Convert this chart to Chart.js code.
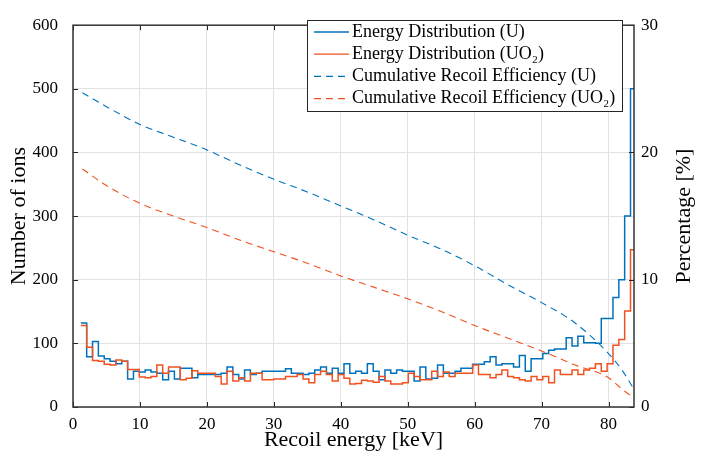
<!DOCTYPE html>
<html><head><meta charset="utf-8">
<script src="https://cdn.jsdelivr.net/npm/chart.js@4/dist/chart.umd.min.js"></script>
<style>html,body{margin:0;padding:0;background:#fff}#wrap{width:703px;height:459px;position:relative}</style>
</head><body><div id="wrap"><canvas id="c" width="703" height="459"></canvas></div>
<script>
// ---- data ----
const binStart = 1.17;      // keV, left edge of first bin
const binWidth = 0.8735;    // keV
const countsU = [132,79,103,80,76,72,68,72,44,56, 55,58,55,53,43,56,44,61,61,46,
  51,51,51,51,53,63,51,44,58,51, 53,56,56,56,56,60,53,53,51,53,
  58,63,53,61,53,68,53,56,53,68, 56,43,58,53,58,56,56,41,63,44,
  45,66,53,53,56,61,61,67,67,71, 79,66,68,68,63,81,56,76,76,84,
  89,91,91,109,96,111,101,101,100,139, 139,172,200,300,500];
const countsUO2 = [128,94,73,72,67,66,74,72,59,59, 47,46,48,66,53,63,63,43,45,57,
  53,53,53,48,36,56,41,46,41,53, 53,43,43,44,44,48,48,51,44,38,
  51,56,51,41,51,45,36,37,42,41, 39,48,41,36,36,38,53,48,43,43,
  56,48,55,48,53,53,53,66,51,51, 46,51,58,48,46,43,41,48,43,48,
  38,58,51,51,58,51,58,61,68,56, 68,97,106,151,247];
const effX   = [1.4, 5, 10, 15, 20, 25, 30, 35, 40, 45, 50, 55, 60, 65, 70, 75, 80, 82, 83.8];
const effU   = [24.7,23.6,22.2,21.2,20.2,19.0,17.9,16.9,15.8,14.7,13.5,12.4,11.1,9.6,8.2,6.6,4.2,2.9,1.4];
const effUO2 = [18.7,17.4,16.0,15.0,14.1,13.1,12.2,11.3,10.3,9.4,8.5,7.5,6.4,5.4,4.4,3.3,2.3,1.4,0.7];
const xTicks = [0,10,20,30,40,50,60,70,80];
const yTicks = [0,100,200,300,400,500,600];
const pctTicks = [0,10,20,30];
const seriesLabels = ['Energy Distribution (U)','Energy Distribution (UO\u2082)',
  'Cumulative Recoil Efficiency (U)','Cumulative Recoil Efficiency (UO\u2082)'];
const xTitle = 'Recoil energy [keV]';
const yTitle = 'Number of ions';
const y2Title = 'Percentage [%]';

const BLUE = '#0072BD', RED = '#F0511F';
const FONT = '"Liberation Serif", "Times New Roman", serif';

function stairs(counts){
  const pts = counts.map((v,i)=>({x: binStart + binWidth*i, y: v}));
  pts.push({x: binStart + binWidth*counts.length, y: counts[counts.length-1]});
  return pts;
}
function curve(xs, ys){ return xs.map((x,i)=>({x, y: ys[i]})); }

const decor = {
  id:'decor',
  afterDraw(chart){
    const ctx = chart.ctx, a = chart.chartArea;
    const xs = chart.scales.x, ys = chart.scales.y, y2 = chart.scales.y2;
    ctx.save();
    ctx.strokeStyle = '#262626'; ctx.lineWidth = 1;
    ctx.beginPath();
    xTicks.forEach(v=>{ const p = Math.round(xs.getPixelForValue(v))+0.5;
      ctx.moveTo(p,a.bottom); ctx.lineTo(p,a.bottom-5);
      ctx.moveTo(p,a.top); ctx.lineTo(p,a.top+5); });
    yTicks.forEach(v=>{ const p = Math.round(ys.getPixelForValue(v))+0.5;
      ctx.moveTo(a.left,p); ctx.lineTo(a.left+5,p); });
    pctTicks.forEach(v=>{ const p = Math.round(y2.getPixelForValue(v))+0.5;
      ctx.moveTo(a.right,p); ctx.lineTo(a.right-5,p); });
    ctx.stroke();
    ctx.lineWidth = 1.5; ctx.strokeStyle = '#333';
    ctx.strokeRect(a.left, a.top, a.right-a.left, a.bottom-a.top);
    // titles
    ctx.fillStyle = '#000';
    ctx.font = '22px ' + FONT; ctx.textAlign = 'center'; ctx.textBaseline = 'middle';
    ctx.fillText(xTitle, (a.left+a.right)/2, 440);
    ctx.save(); ctx.translate(19, (a.top+a.bottom)/2); ctx.rotate(-Math.PI/2);
    ctx.fillText(yTitle, 0, 0); ctx.restore();
    ctx.save(); ctx.translate(684, (a.top+a.bottom)/2); ctx.rotate(-Math.PI/2);
    ctx.fillText(y2Title, 0, 0); ctx.restore();
    // legend
    const lx = 307.5, ly = 20.5, lw = 315, lh = 91;
    ctx.fillStyle = '#fff'; ctx.fillRect(lx, ly, lw, lh);
    ctx.lineWidth = 1; ctx.strokeStyle = '#262626'; ctx.strokeRect(lx, ly, lw, lh);
    ctx.font = '18px ' + FONT; ctx.textAlign = 'left'; ctx.textBaseline = 'middle';
    chart.data.datasets.forEach((ds,i)=>{
      const cy = 32 + i*22.2;
      ctx.strokeStyle = ds.borderColor; ctx.lineWidth = 1.3;
      ctx.setLineDash(ds.borderDash || []);
      ctx.beginPath(); ctx.moveTo(314, cy); ctx.lineTo(349, cy); ctx.stroke();
      ctx.setLineDash([]);
      ctx.fillStyle = '#000'; ctx.fillText(ds.label, 352, cy);
    });
    ctx.restore();
  }
};

const tickFont = {family: FONT, size: 17};
new Chart(document.getElementById('c'), {
  type:'line',
  data:{ datasets:[
    {label: seriesLabels[0], data: stairs(countsU), borderColor: BLUE, borderWidth: 1.5, stepped: 'before', pointRadius: 0, yAxisID:'y', order: 2},
    {label: seriesLabels[1], data: stairs(countsUO2), borderColor: RED, borderWidth: 1.5, stepped: 'before', pointRadius: 0, yAxisID:'y', order: 1},
    {label: seriesLabels[2], data: curve(effX, effU), borderColor: BLUE, borderWidth: 1.1, borderDash:[7,5], pointRadius: 0, cubicInterpolationMode:'monotone', yAxisID:'y2', order: 0},
    {label: seriesLabels[3], data: curve(effX, effUO2), borderColor: RED, borderWidth: 1.1, borderDash:[7,5], pointRadius: 0, cubicInterpolationMode:'monotone', yAxisID:'y2', order: 0}
  ]},
  options:{
    responsive:false, animation:false, devicePixelRatio:1,
    layout:{padding:{top:10,left:0,right:0,bottom:0}},
    plugins:{legend:{display:false}, tooltip:{enabled:false}},
    scales:{
      x:{type:'linear', min:0, max:83.8,
        ticks:{stepSize:10, includeBounds:false, font:tickFont, color:'#000', padding:7, maxRotation:0},
        grid:{color:'#e2e2e2', drawTicks:false}, border:{display:false},
        afterFit(s){ s.height = 52; }},
      y:{type:'linear', min:0, max:600,
        ticks:{stepSize:100, font:tickFont, color:'#000', padding:15},
        grid:{color:'#e2e2e2', drawTicks:false}, border:{display:false},
        afterFit(s){ s.width = 73; }},
      y2:{type:'linear', position:'right', min:0, max:30,
        ticks:{stepSize:10, font:tickFont, color:'#000', padding:7},
        grid:{display:false, drawTicks:false}, border:{display:false},
        afterFit(s){ s.width = 69; }}
    }
  },
  plugins:[decor]
});
</script></body></html>
